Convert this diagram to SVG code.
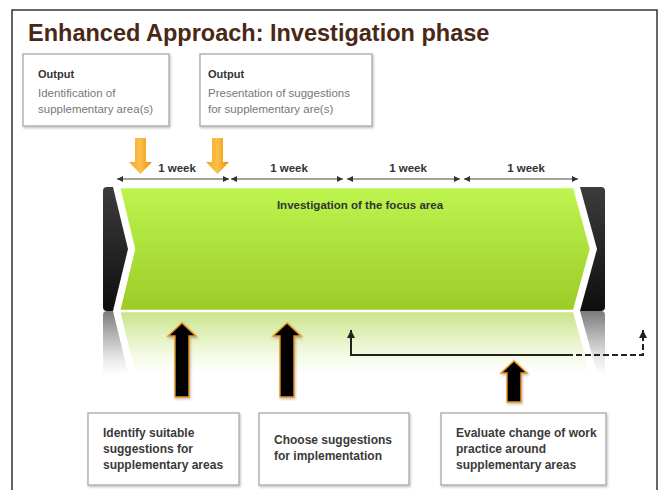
<svg xmlns="http://www.w3.org/2000/svg" width="661" height="490" viewBox="0 0 661 490">
  <defs>
    <style>
      .frame { fill: #ffffff; stroke: #333333; stroke-width: 1.5; }
      .title { font-family: "Liberation Sans", Arial, sans-serif; font-weight: bold; font-size: 23.5px; fill: #4a2816; }
      .box { fill: #ffffff; stroke: #a8a8a8; stroke-width: 1.3; filter: url(#soft); }
      .head { font-family: "Liberation Sans", Arial, sans-serif; font-weight: bold; font-size: 11px; fill: #333333; }
      .note { font-family: "Liberation Sans", Arial, sans-serif; font-size: 11.5px; fill: #777777; }
      .task { font-family: "Liberation Sans", Arial, sans-serif; font-weight: bold; font-size: 12px; fill: #3a3a3a; }
      .week { font-family: "Liberation Sans", Arial, sans-serif; font-weight: bold; font-size: 11.5px; fill: #333333; text-anchor: middle; }
      .phase { font-family: "Liberation Sans", Arial, sans-serif; font-weight: bold; font-size: 11.5px; fill: #333333; text-anchor: middle; }
      .span { stroke: #444444; stroke-width: 1; fill: none; marker-start: url(#tipL); marker-end: url(#tipR); }
      .loop { stroke: #222222; stroke-width: 2; fill: none; }
      .up { fill: #000000; stroke: #e8901c; stroke-width: 1.4; stroke-linejoin: miter; filter: url(#soft); }
      .down { fill: url(#orange); }
    </style>
    <linearGradient id="green" x1="0" y1="0" x2="0" y2="1">
      <stop offset="0" stop-color="#bdf54e"/>
      <stop offset="1" stop-color="#9ccb28"/>
    </linearGradient>
    <linearGradient id="dark" x1="0" y1="0" x2="0" y2="1">
      <stop offset="0" stop-color="#3c3c3c"/>
      <stop offset="1" stop-color="#0e0e0e"/>
    </linearGradient>
    <linearGradient id="orange" x1="0" y1="0" x2="1" y2="0">
      <stop offset="0" stop-color="#f7a51e"/>
      <stop offset="0.5" stop-color="#fbc04a"/>
      <stop offset="1" stop-color="#ef8a00"/>
    </linearGradient>
    <linearGradient id="fade" gradientUnits="userSpaceOnUse" x1="0" y1="311" x2="0" y2="375">
      <stop offset="0" stop-color="#ffffff" stop-opacity="0.55"/>
      <stop offset="0.75" stop-color="#ffffff" stop-opacity="0.1"/>
      <stop offset="1" stop-color="#ffffff" stop-opacity="0"/>
    </linearGradient>
    <mask id="fadeMask" maskUnits="userSpaceOnUse" x="0" y="311" width="661" height="70">
      <rect x="0" y="311" width="661" height="70" fill="url(#fade)"/>
    </mask>
    <filter id="soft" x="-10%" y="-10%" width="125%" height="125%">
      <feDropShadow dx="1" dy="1.5" stdDeviation="1.2" flood-color="#000000" flood-opacity="0.25"/>
    </filter>
    <marker id="tipR" viewBox="0 0 6 6" refX="6" refY="3" markerWidth="6" markerHeight="6" orient="auto" markerUnits="userSpaceOnUse">
      <path d="M0,0 L6,3 L0,6 Z" fill="#333333"/>
    </marker>
    <marker id="tipL" viewBox="0 0 6 6" refX="0" refY="3" markerWidth="6" markerHeight="6" orient="auto" markerUnits="userSpaceOnUse">
      <path d="M6,0 L0,3 L6,6 Z" fill="#333333"/>
    </marker>
    <marker id="tipUp" viewBox="0 0 8 8" refX="8" refY="4" markerWidth="8" markerHeight="8" orient="auto" markerUnits="userSpaceOnUse">
      <path d="M0,0 L8,4 L0,8 Z" fill="#222222"/>
    </marker>
    <!-- the phase bar: end caps and the green chevron -->
    <g id="bar">
      <path d="M107,187 L113,187 L128,249 L113,311 L107,311 Q103,311 103,307 L103,191 Q103,187 107,187 Z" fill="url(#dark)"/>
      <path d="M580,187 L601,187 Q605,187 605,191 L605,307 Q605,311 601,311 L580,311 L597,249 Z" fill="url(#dark)"/>
      <path d="M119,187 L574,187 L591,249 L574,311 L119,311 L134,249 Z" fill="url(#green)" stroke="#ffffff" stroke-width="2.5" stroke-linejoin="miter"/>
    </g>
  </defs>

  <!-- page frame -->
  <rect class="frame" x="12" y="10" width="645" height="490"/>

  <text class="title" x="28" y="41">Enhanced Approach: Investigation phase</text>

  <!-- output notes -->
  <g id="output-1">
    <rect class="box" x="23" y="54" width="146" height="72"/>
    <text class="head" x="38" y="78">Output</text>
    <text class="note" x="38" y="97">Identification of</text>
    <text class="note" x="38" y="113">supplementary area(s)</text>
  </g>
  <g id="output-2">
    <rect class="box" x="200" y="54" width="172" height="72"/>
    <text class="head" x="208" y="78">Output</text>
    <text class="note" x="208" y="97">Presentation of suggestions</text>
    <text class="note" x="208" y="113">for supplementary are(s)</text>
  </g>

  <!-- phase bar with its reflection -->
  <g id="phase">
    <use href="#bar"/>
    <g mask="url(#fadeMask)">
      <use href="#bar" transform="translate(0,622) scale(1,-1)"/>
    </g>
    <text class="phase" x="360" y="209">Investigation of the focus area</text>
  </g>

  <!-- week scale -->
  <g id="weeks">
    <text class="week" x="177" y="172">1 week</text>
    <text class="week" x="289" y="172">1 week</text>
    <text class="week" x="408" y="172">1 week</text>
    <text class="week" x="526" y="172">1 week</text>
  </g>

  <g id="connectors">
    <line class="span" x1="117" y1="179" x2="229" y2="179"/>
    <line class="span" x1="231" y1="179" x2="343" y2="179"/>
    <line class="span" x1="347" y1="179" x2="460" y2="179"/>
    <line class="span" x1="464" y1="179" x2="578" y2="179"/>

    <!-- orange delivery arrows -->
    <path class="down" d="M135,138 L146,138 L146,162 L152,162 L140.5,174 L129,162 L135,162 Z"/>
    <path class="down" d="M212,138 L223,138 L223,162 L229,162 L217.5,174 L206,162 L212,162 Z"/>

    <!-- activity arrows -->
    <path class="up" d="M175,397 L175,336 L168,336 L182,323 L196,336 L189,336 L189,397 Z"/>
    <path class="up" d="M280,397 L280,336 L273,336 L287,323 L301,336 L294,336 L294,397 Z"/>
    <path class="up" d="M507,402 L507,373 L501,373 L514,361 L527,373 L521,373 L521,402 Z"/>

    <!-- evaluation loop -->
    <path class="loop" d="M567,355 L351,355 L351,330" marker-end="url(#tipUp)"/>
    <path class="loop" d="M567,355 L643,355 L643,330" stroke-dasharray="6,3" marker-end="url(#tipUp)"/>
  </g>

  <!-- activity notes -->
  <g id="task-1">
    <rect class="box" x="88" y="413" width="151" height="72"/>
    <text class="task" x="103" y="437">Identify suitable</text>
    <text class="task" x="103" y="453">suggestions for</text>
    <text class="task" x="103" y="469">supplementary areas</text>
  </g>
  <g id="task-2">
    <rect class="box" x="259" y="413" width="150" height="72"/>
    <text class="task" x="274" y="444">Choose suggestions</text>
    <text class="task" x="274" y="460">for implementation</text>
  </g>
  <g id="task-3">
    <rect class="box" x="441" y="413" width="165" height="72"/>
    <text class="task" x="456" y="437">Evaluate change of work</text>
    <text class="task" x="456" y="453">practice around</text>
    <text class="task" x="456" y="469">supplementary areas</text>
  </g>
</svg>
